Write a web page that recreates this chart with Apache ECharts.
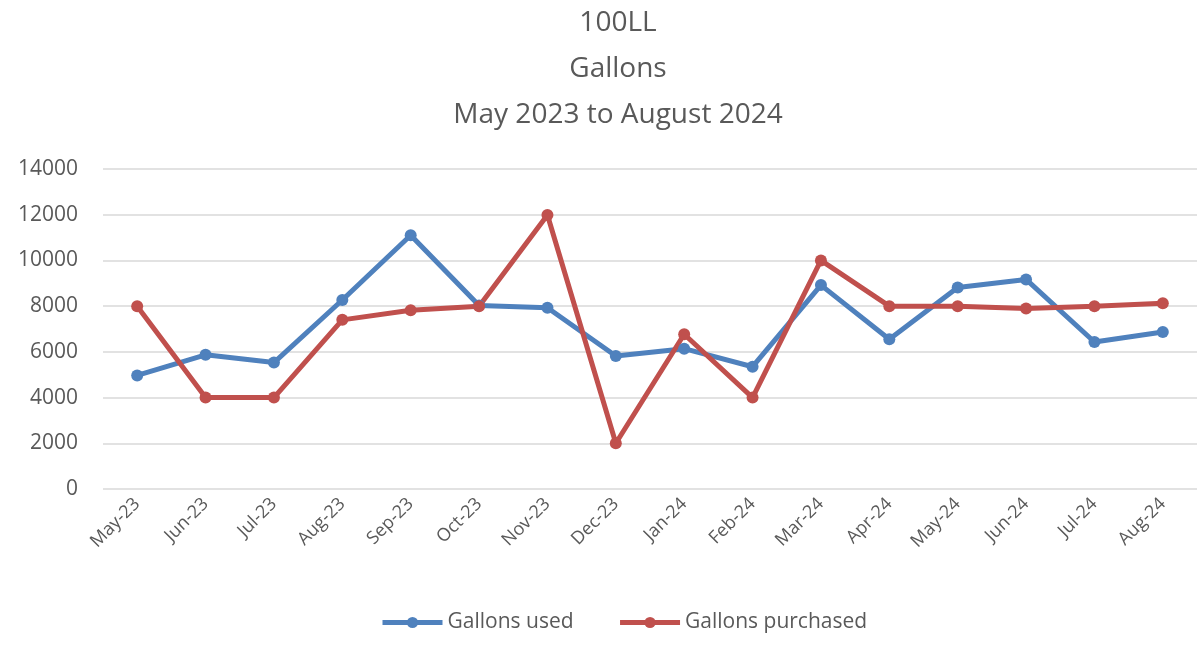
<!DOCTYPE html>
<html><head><meta charset="utf-8">
<script src="https://cdn.jsdelivr.net/npm/echarts@6/dist/echarts.min.js"></script>
<style>html,body{margin:0;padding:0;background:#fff}#c{width:1197px;height:657px}</style>
</head><body><div id="c"></div>
<script>
const categories = ["May-23","Jun-23","Jul-23","Aug-23","Sep-23","Oct-23","Nov-23","Dec-23","Jan-24","Feb-24","Mar-24","Apr-24","May-24","Jun-24","Jul-24","Aug-24"];
const gallonsUsed = [4970,5870,5530,8270,11100,8030,7930,5820,6140,5350,8920,6550,8820,9170,6430,6870];
const gallonsPurchased = [8000,4000,4000,7400,7820,8000,11990,2000,6770,4000,10000,8000,8000,7900,8000,8130];
const yTicks = {min:0, max:14000, interval:2000};

const chart = echarts.init(document.getElementById('c'));
const font = '"Open Sans", "Noto Sans", sans-serif';
chart.setOption({
  animation:false,
  title:{
    text:'100LL\nGallons\nMay 2023 to August 2024',
    left:613, top:-5, textAlign:'center',
    textStyle:{fontFamily:font, fontSize:28, fontWeight:'normal', color:'#595959', lineHeight:46}
  },
  grid:{left:103, right:0, top:169, bottom:168},
  legend:{
    bottom:19, left:375, itemWidth:60, itemHeight:14, itemGap:44,
    textStyle:{fontFamily:font, fontSize:21, color:'#595959'},
    lineStyle:{width:5},
    data:['Gallons used','Gallons purchased']
  },
  xAxis:{
    type:'category', data:categories, boundaryGap:true,
    axisLine:{show:false}, axisTick:{show:false},
    axisLabel:{rotate:45, fontFamily:font, fontSize:18, color:'#595959', margin:12, interval:0}
  },
  yAxis:{
    type:'value', min:yTicks.min, max:yTicks.max, interval:yTicks.interval,
    axisLine:{show:false}, axisTick:{show:false},
    axisLabel:{fontFamily:font, fontSize:21, color:'#595959', margin:25, formatter:v=>String(v)},
    splitLine:{lineStyle:{color:'#d9d9d9', width:1.5}}
  },
  series:[
    {name:'Gallons used', type:'line', data:gallonsUsed, symbol:'circle', symbolSize:12,
     lineStyle:{width:5, color:'#4F81BD'}, itemStyle:{color:'#4F81BD'}},
    {name:'Gallons purchased', type:'line', data:gallonsPurchased, symbol:'circle', symbolSize:12,
     lineStyle:{width:5, color:'#C0504D'}, itemStyle:{color:'#C0504D'}}
  ]
});
</script></body></html>
